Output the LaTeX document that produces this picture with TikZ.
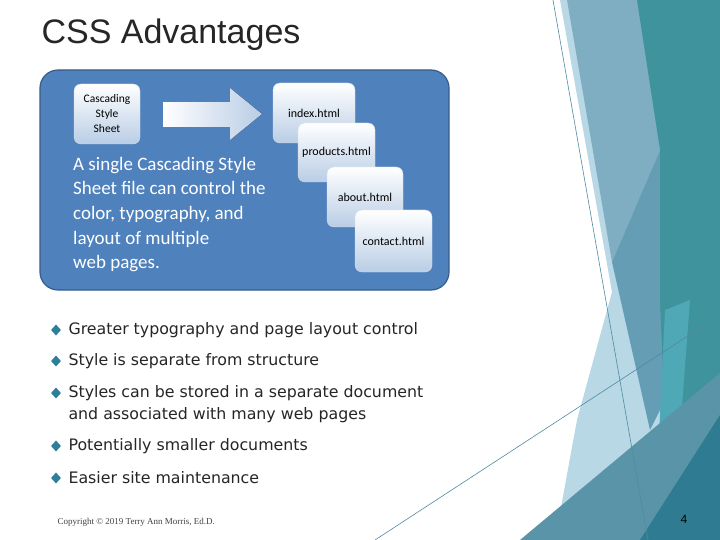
\documentclass[tikz,border=0pt]{standalone}
\usetikzlibrary{shapes.geometric}
\usepackage{fontspec}
\setmainfont{Liberation Sans}
\newfontfamily\carl{Carlito}
\newfontfamily\dej{DejaVu Sans}
\newfontfamily\tms{Liberation Serif}
\definecolor{dfill}{HTML}{4F81BD}
\definecolor{dline}{HTML}{385D8A}
\definecolor{pgbot}{HTML}{B9CDE5}
\definecolor{lb}{HTML}{B8D8E6}
\definecolor{gb}{HTML}{7FAEC3}
\definecolor{mb}{HTML}{659DB5}
\definecolor{tl}{HTML}{3E939D}
\definecolor{tl2}{HTML}{4FA8B5}
\definecolor{mid}{HTML}{5A94A8}
\definecolor{dk}{HTML}{2F7C92}
\definecolor{ln}{HTML}{4F8AA3}
\definecolor{bc}{HTML}{2E7F9A}
\begin{document}
\begin{tikzpicture}[x=1pt,y=-1pt,
  page/.style={draw=white!80!dline,rounded corners=7pt,top color=white,bottom color=pgbot,inner sep=0pt},
  btxt/.style={anchor=west,font=\dej\fontsize{15.8}{18}\selectfont,text=black!85},
  bul/.style={fill=bc,diamond,inner sep=0pt,minimum size=0pt}]
\useasboundingbox (0,0) rectangle (720,540);
\fill[white] (0,0) rectangle (720,540);
% right decoration
\fill[lb] (560,0) -- (720,0) -- (720,540) -- (555,540) -- (577,420) -- (612,292) -- cycle;
\fill[gb] (567,0) -- (640,0) -- (660,150) -- (612,262) -- cycle;
\fill[mb] (612,262) -- (660,150) -- (665,400) -- (650,430) -- cycle;
\fill[tl] (637,0) -- (720,0) -- (720,540) -- (670,540) -- (660,300) -- (660,150) -- cycle;
\fill[tl2] (665,310) -- (690,300) -- (672,540) -- (655,520) -- cycle;
\fill[mid] (520,540) -- (720,373) -- (720,540) -- cycle;
\fill[dk] (640,540) -- (720,415) -- (720,540) -- cycle;
\draw[ln,line width=0.6pt] (553,0) -- (648,540);
\draw[ln,line width=0.6pt] (375,540) -- (720,315);
% title
\node[anchor=west,font=\fontsize{34}{38}\selectfont,text=black!85] (title) at (38,35) {CSS Advantages};
% diagram
\draw[fill=dfill,draw=dline,line width=1.2pt,rounded corners=18pt] (40,70) rectangle (449,290);
\node[page,minimum width=66pt,minimum height=60pt,align=center,font=\carl\fontsize{11.5}{15}\selectfont] (css) at (107,114) {Cascading\\Style\\Sheet};
\fill[left color=white,right color=pgbot] (163,102) -- (230,102) -- (230,88) -- (262,114) -- (230,140) -- (230,127) -- (163,127) -- cycle;
\coordinate (arr) at (262,114);
\node[page,minimum width=82pt,minimum height=60pt,font=\carl\fontsize{12}{13}\selectfont] (idx) at (314,113) {index.html};
\node[page,minimum width=77pt,minimum height=59pt,font=\carl\fontsize{12}{13}\selectfont] (prod) at (336.5,152.5) {products.html};
\node[page,minimum width=76pt,minimum height=60pt,font=\carl\fontsize{12}{13}\selectfont] (about) at (365,197) {about.html};
\node[page,minimum width=77pt,minimum height=62pt,font=\carl\fontsize{12}{13}\selectfont] (contact) at (393.5,241) {contact.html};
\node[anchor=north west,align=left,text=white,font=\carl\fontsize{19}{24.6}\selectfont,inner sep=0pt] (desc) at (73,157) {A single Cascading Style\\Sheet file can control the\\color, typography, and\\layout of multiple\\web pages.};
% bullets
\foreach \y/\t [count=\i] in {330/Greater typography and page layout control,361/Style is separate from structure,393/Styles can be stored in a separate document,446/Potentially smaller documents,478/Easier site maintenance}{
  \node[bul,minimum width=10pt,minimum height=11pt] (b\i) at (56,\y) {};
  \node[btxt] (t\i) at (65,\y) {\t};
}
\node[btxt] (t3b) at (65,415) {and associated with many web pages};
\node[anchor=west,font=\tms\fontsize{9}{10}\selectfont,text=black!75] (copy) at (54,522) {Copyright © 2019 Terry Ann Morris, Ed.D.};
\node[font=\fontsize{12}{12}\selectfont] (num) at (684,519) {4};
\end{tikzpicture}
\end{document}
